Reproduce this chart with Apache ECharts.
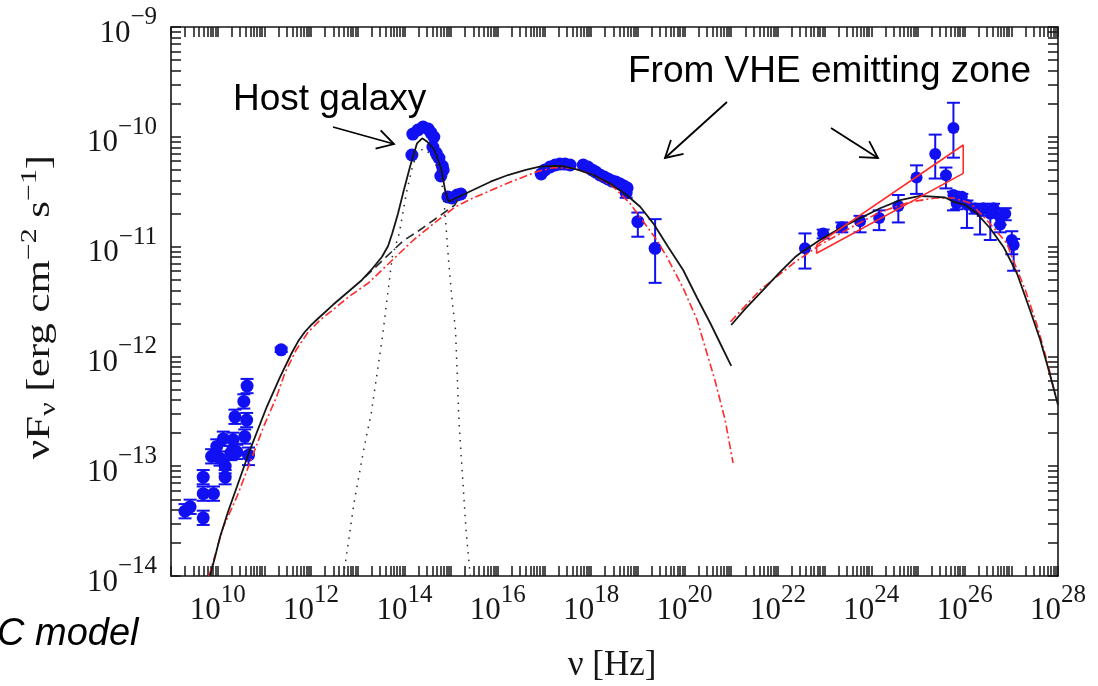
<!DOCTYPE html>
<html>
<head>
<meta charset="utf-8">
<script src="https://cdn.jsdelivr.net/npm/echarts@6/dist/echarts.min.js"></script>
<style>
  html, body { margin: 0; padding: 0; background: #ffffff; }
  #chart { width: 1098px; height: 686px; }
</style>
</head>
<body>
<div id="chart"></div>
<script>
// ---- axes: decades of log10(nu / Hz) and log10(nuFnu / erg cm^-2 s^-1) ----
const xDecades = [9, 10, 11, 12, 13, 14, 15, 16, 17, 18, 19, 20, 21, 22, 23, 24, 25, 26, 27, 28];
const xLabelDecades = [10, 12, 14, 16, 18, 20, 22, 24, 26, 28];
const yDecades = [-14, -13, -12, -11, -10, -9];
const minorMultipliers = [2, 3, 4, 5, 6, 7, 8, 9];

// ---- observations: [log nu, log nuFnu, log low, log high] ----
const radioPoints = [
  [9.30, -13.41, -13.475, -13.345], [9.41, -13.37, -13.435, -13.305],
  [9.69, -13.47, -13.535, -13.405], [9.69, -13.25, -13.315, -13.185],
  [9.91, -13.25, -13.315, -13.185], [9.69, -13.10, -13.165, -13.035],
  [10.16, -13.10, -13.165, -13.035], [10.16, -13.00, -13.065, -12.935],
  [9.87, -12.91, -12.975, -12.845], [9.98, -12.82, -12.885, -12.755],
  [10.05, -12.93, -12.995, -12.865], [10.28, -12.88, -12.945, -12.815],
  [10.41, -12.87, -12.935, -12.805], [10.66, -12.90, -12.99, -12.83],
  [10.12, -12.75, -12.815, -12.685], [10.33, -12.76, -12.825, -12.695],
  [10.58, -12.73, -12.795, -12.665], [10.37, -12.55, -12.615, -12.485],
  [10.62, -12.58, -12.645, -12.515], [10.56, -12.41, -12.475, -12.345],
  [10.63, -12.27, -12.335, -12.205], [11.36, -11.94, -11.96, -11.92]
];
const hostPoints = [
  [14.16, -10.166], [14.18, -9.975], [14.29, -9.938], [14.40, -9.911],
  [14.51, -9.929], [14.57, -9.965], [14.63, -10.002], [14.61, -10.093],
  [14.68, -10.148], [14.74, -10.193], [14.81, -10.266], [14.78, -10.357],
  [14.83, -10.302], [14.93, -10.548]
];
const uvPoints = [
  [15.02, -10.557], [15.13, -10.530], [15.21, -10.521]
];
const xrayPoints = [
  [16.93, -10.339, -10.339, -10.339], [17.01, -10.302, -10.302, -10.302],
  [17.12, -10.275, -10.275, -10.275], [17.23, -10.257, -10.257, -10.257],
  [17.33, -10.248, -10.248, -10.248], [17.44, -10.248, -10.248, -10.248],
  [17.55, -10.257, -10.257, -10.257], [17.83, -10.257, -10.257, -10.257],
  [17.93, -10.275, -10.275, -10.275], [18.02, -10.302, -10.302, -10.302],
  [18.10, -10.321, -10.321, -10.321], [18.19, -10.348, -10.348, -10.348],
  [18.28, -10.366, -10.366, -10.366], [18.36, -10.384, -10.384, -10.384],
  [18.45, -10.403, -10.403, -10.403], [18.53, -10.412, -10.412, -10.412],
  [18.62, -10.430, -10.430, -10.430], [18.70, -10.448, -10.448, -10.448],
  [18.77, -10.466, -10.466, -10.466], [18.75, -10.510, -10.555, -10.470],
  [19.00, -10.773, -10.91, -10.69], [19.37, -11.016, -11.33, -10.75]
];
const fermiPoints = [
  [22.58, -11.016, -11.20, -10.88], [22.97, -10.880, -10.925, -10.845],
  [23.37, -10.824, -10.87, -10.78], [23.76, -10.770, -10.87, -10.72],
  [24.17, -10.740, -10.85, -10.67], [24.58, -10.630, -10.78, -10.53],
  [24.97, -10.370, -10.52, -10.26], [25.37, -10.157, -10.38, -9.98],
  [25.60, -10.350, -10.47, -10.28], [25.76, -9.920, -10.19, -9.69]
];
const vhePoints = [
  [25.76, -10.530, -10.67, -10.50], [25.94, -10.545, -10.60, -10.52],
  [25.83, -10.606, -10.66, -10.58], [26.05, -10.620, -10.83, -10.58],
  [26.22, -10.650, -10.70, -10.62], [26.33, -10.667, -10.89, -10.62],
  [26.40, -10.650, -10.72, -10.61], [26.55, -10.700, -10.94, -10.64],
  [26.62, -10.650, -10.70, -10.61], [26.76, -10.730, -10.80, -10.66],
  [26.76, -10.800, -10.87, -10.74], [26.87, -10.700, -10.76, -10.65],
  [27.01, -10.940, -11.07, -10.86], [27.05, -10.985, -11.22, -10.93]
];
// power-law butterfly of the LAT spectrum
const latButterfly = [
  [22.83, -10.985], [25.97, -10.075], [25.97, -10.333], [22.83, -11.061], [22.83, -10.985]
];

// ---- model curves: [log nu, log nuFnu] ----
const totalLowBump = [
  [9.835, -14.0], [9.943, -13.827], [10.05, -13.645], [10.22, -13.417], [10.41, -13.19],
  [10.69, -12.853], [11.05, -12.461], [11.335, -12.188], [11.586, -11.969], [11.72, -11.865],
  [11.86, -11.78], [12.0, -11.715], [12.15, -11.655], [12.47, -11.53], [12.84, -11.395],
  [13.09, -11.304], [13.29, -11.213],
  [13.52, -11.092], [13.65, -10.995], [13.74, -10.879], [13.86, -10.703], [13.97, -10.515],
  [14.12, -10.272], [14.27, -10.059], [14.38, -10.014], [14.49, -10.045], [14.645, -10.12],
  [14.795, -10.302], [14.87, -10.485], [14.945, -10.591], [15.095, -10.56], [15.47, -10.485],
  [15.845, -10.409], [16.22, -10.348], [16.60, -10.302], [16.90, -10.272], [17.19, -10.265],
  [17.40, -10.268], [17.69, -10.296], [18.05, -10.348], [18.40, -10.424], [18.76, -10.53],
  [19.05, -10.637], [19.33, -10.788], [19.65, -11.004], [19.97, -11.213], [20.27, -11.468],
  [20.55, -11.696], [20.76, -11.878], [21.00, -12.087]
];
const totalHighBump = [
  [21.0, -11.714], [21.30, -11.568], [21.62, -11.423], [22.05, -11.231], [22.37, -11.095],
  [22.475, -11.061], [22.90, -10.94], [23.33, -10.833], [23.76, -10.742], [24.19, -10.651],
  [24.62, -10.576], [25.045, -10.539], [25.33, -10.545], [25.58, -10.553], [25.76, -10.591],
  [26.01, -10.621], [26.26, -10.697], [26.545, -10.833], [26.83, -11.001], [27.12, -11.243],
  [27.40, -11.577], [27.62, -11.851], [27.83, -12.169], [28.0, -12.443]
];
const altLowBump = [
  [9.814, -14.0], [9.964, -13.781], [10.12, -13.554], [10.41, -13.28], [10.69, -12.971],
  [10.98, -12.643], [11.26, -12.37], [11.44, -12.151], [11.68, -11.942], [11.935, -11.78],
  [12.19, -11.67], [12.47, -11.575], [12.83, -11.45], [13.22, -11.334], [13.67, -11.152],
  [14.195, -10.94], [14.72, -10.758], [15.095, -10.637], [15.47, -10.557], [15.845, -10.49],
  [16.22, -10.42], [16.60, -10.357], [16.83, -10.318], [17.19, -10.281], [17.62, -10.287],
  [18.05, -10.348], [18.475, -10.454], [18.83, -10.606], [19.12, -10.773], [19.405, -10.94],
  [19.62, -11.092], [19.97, -11.377], [20.27, -11.669], [20.44, -11.914], [20.65, -12.215],
  [20.87, -12.579], [21.04, -12.971]
];
const altHighBump = [
  [20.985, -11.684], [21.62, -11.395], [22.37, -11.14], [22.90, -10.985], [23.545, -10.831],
  [24.19, -10.685], [24.83, -10.594], [25.37, -10.557], [25.75, -10.557], [26.12, -10.603],
  [26.475, -10.758], [26.90, -10.967], [27.04, -11.122], [27.30, -11.395], [27.55, -11.714],
  [27.79, -12.078], [27.94, -12.352]
];
const synchrotronOnly = [
  [13.16, -11.277], [13.585, -11.104], [13.97, -10.949], [14.33, -10.849],
  [14.87, -10.685], [15.08, -10.621], [15.15, -10.566]
];
const hostTemplate = [
  [12.695, -14.0], [12.92, -13.335], [13.14, -12.822], [13.29, -12.515], [13.52, -11.851],
  [13.74, -11.092], [13.89, -10.879], [14.04, -10.515], [14.18, -10.257], [14.29, -10.138],
  [14.40, -10.111], [14.505, -10.138], [14.655, -10.23], [14.795, -10.393], [14.87, -10.694],
  [14.945, -11.122], [15.02, -11.486], [15.095, -11.76], [15.17, -12.607], [15.32, -13.581],
  [15.41, -14.0]
];

// ---- drawing ----
const BLUE = '#1010f2';
const RED = '#ff2a2a';
const INK = '#161616';
const SERIF = '"Liberation Serif", "Times New Roman", serif';
const SANS = '"Liberation Sans", Arial, sans-serif';

function logTicks(decades) {
  const out = [];
  decades.forEach(function (d, i) {
    out.push(d);
    if (i < decades.length - 1) {
      minorMultipliers.forEach(function (m) { out.push(d + Math.log10(m)); });
    }
  });
  return out;
}

function powerLabel(value) {
  const e = Math.round(value);
  const txt = e < 0 ? '\u2212' + (-e) : String(e);
  return '{b|10}{s|' + txt + '}';
}

const powerRich = {
  b: { fontFamily: SERIF, fontSize: 31, lineHeight: 31, color: INK, padding: [13, 0, 0, 0] },
  s: { fontFamily: SERIF, fontSize: 25, lineHeight: 25, color: INK, padding: [0, 0, 19, 0] }
};

function errorBars(params, api) {
  const x = api.value(0);
  const lo = api.value(2);
  const hi = api.value(3);
  if (!(hi > lo)) return null;
  const a = api.coord([x, lo]);
  const b = api.coord([x, hi]);
  const w = 6.5;
  const st = { stroke: BLUE, lineWidth: 2 };
  return {
    type: 'group',
    children: [
      { type: 'line', shape: { x1: a[0], y1: a[1], x2: b[0], y2: b[1] }, style: st },
      { type: 'line', shape: { x1: a[0] - w, y1: a[1], x2: a[0] + w, y2: a[1] }, style: st },
      { type: 'line', shape: { x1: b[0] - w, y1: b[1], x2: b[0] + w, y2: b[1] }, style: st }
    ]
  };
}

function pointSeries(data, size) {
  return {
    type: 'scatter', data: data, symbol: 'circle', symbolSize: size,
    itemStyle: { color: BLUE, opacity: 1 }, z: 2, silent: true
  };
}
function errorSeries(data) {
  return { type: 'custom', data: data, renderItem: errorBars, z: 2, silent: true,
           encode: { x: 0, y: [1, 2, 3] } };
}
function curveSeries(data, color, type, width) {
  return {
    type: 'line', data: data, showSymbol: false, symbol: 'none', smooth: false,
    lineStyle: { color: color, width: width, type: type }, z: 5, silent: true
  };
}

// annotation arrows (open heads)
function arrow(x1, y1, x2, y2) {
  const ang = Math.atan2(y2 - y1, x2 - x1);
  const len = 19, spread = 0.52;
  const h1 = [x2 - len * Math.cos(ang - spread), y2 - len * Math.sin(ang - spread)];
  const h2 = [x2 - len * Math.cos(ang + spread), y2 - len * Math.sin(ang + spread)];
  const st = { stroke: '#000', lineWidth: 1.8, fill: null };
  return [
    { type: 'polyline', shape: { points: [[x1, y1], [x2, y2]] }, style: st },
    { type: 'polyline', shape: { points: [h1, [x2, y2], h2] }, style: st }
  ];
}

const xTicks = logTicks(xDecades);
const yTicks = logTicks(yDecades);

const axisLineStyle = { show: true, lineStyle: { color: INK, width: 1.6 } };
const tickStyle = (vals) => ({ show: true, inside: true, length: 10, customValues: vals,
                               lineStyle: { color: INK, width: 1.5 } });

const chart = echarts.init(document.getElementById('chart'), null, { renderer: 'canvas' });
chart.setOption({
  animation: false,
  backgroundColor: '#ffffff',
  grid: { left: 171, right: 40, top: 27, bottom: 110, containLabel: false },
  xAxis: [
    {
      type: 'value', min: 9, max: 28, position: 'bottom',
      axisLine: axisLineStyle, axisTick: tickStyle(xTicks),
      splitLine: { show: false }, minorTick: { show: false },
      axisLabel: { show: true, customValues: xLabelDecades, margin: 13,
                   formatter: powerLabel, rich: powerRich }
    },
    {
      type: 'value', min: 9, max: 28, position: 'top',
      axisLine: axisLineStyle, axisTick: tickStyle(xTicks),
      splitLine: { show: false }, axisLabel: { show: false }
    }
  ],
  yAxis: [
    {
      type: 'value', min: -14, max: -9, position: 'left',
      axisLine: axisLineStyle, axisTick: tickStyle(yTicks),
      splitLine: { show: false }, minorTick: { show: false },
      axisLabel: { show: true, customValues: yDecades, margin: 14,
                   formatter: powerLabel, rich: powerRich }
    },
    {
      type: 'value', min: -14, max: -9, position: 'right',
      axisLine: axisLineStyle, axisTick: tickStyle(yTicks),
      splitLine: { show: false }, axisLabel: { show: false }
    }
  ],
  series: [
    errorSeries(radioPoints), pointSeries(radioPoints, 13),
    pointSeries(hostPoints, 13), pointSeries(uvPoints, 13),
    errorSeries(xrayPoints), pointSeries(xrayPoints, 13),
    errorSeries(fermiPoints), pointSeries(fermiPoints, 12),
    errorSeries(vhePoints), pointSeries(vhePoints, 12),
    curveSeries(hostTemplate, '#2a2a2a', [1.5, 6], 1.5),
    curveSeries(synchrotronOnly, '#2a2a2a', [9, 5], 1.6),
    curveSeries(altLowBump, RED, [8, 3, 2, 3], 1.6),
    curveSeries(altHighBump, RED, [8, 3, 2, 3], 1.6),
    curveSeries(totalLowBump, INK, 'solid', 1.8),
    curveSeries(totalHighBump, INK, 'solid', 1.8),
    curveSeries(latButterfly, RED, 'solid', 1.6)
  ],
  graphic: [].concat(
    [
      {
        type: 'text', x: 40, y: 307, rotation: Math.PI / 2, scaleX: 1.3, silent: true,
        style: {
          text: '{m|\u03bdF}{sub|\u03bd}{m| [erg cm}{sup|\u22122}{m| s}{sup|\u22121}{m|]}',
          align: 'center', verticalAlign: 'middle', textAlign: 'center', textVerticalAlign: 'middle',
          fill: INK,
          rich: {
            m: { fontFamily: SERIF, fontSize: 33, lineHeight: 33, color: INK },
            sub: { fontFamily: SERIF, fontSize: 23, lineHeight: 23, color: INK, padding: [17, 0, 0, 0] },
            sup: { fontFamily: SERIF, fontSize: 23, lineHeight: 23, color: INK, padding: [0, 0, 21, 0] }
          }
        }
      },
      {
        type: 'text', x: 612, y: 666, silent: true,
        style: { text: '\u03bd [Hz]', font: '35px ' + SERIF, fill: INK,
                 align: 'center', verticalAlign: 'middle', textAlign: 'center', textVerticalAlign: 'middle' }
      },
      {
        type: 'text', x: 233, y: 100, silent: true,
        style: { text: 'Host galaxy', font: '37px ' + SANS, fill: '#000',
                 align: 'left', verticalAlign: 'middle', textAlign: 'left', textVerticalAlign: 'middle' }
      },
      {
        type: 'text', x: 628, y: 72, silent: true,
        style: { text: 'From VHE emitting zone', font: '37px ' + SANS, fill: '#000',
                 align: 'left', verticalAlign: 'middle', textAlign: 'left', textVerticalAlign: 'middle' }
      },
      {
        type: 'text', x: -3, y: 634, silent: true,
        style: { text: 'C model', font: 'italic 38px ' + SANS, fill: '#000',
                 align: 'left', verticalAlign: 'middle', textAlign: 'left', textVerticalAlign: 'middle' }
      }
    ],
    arrow(333, 127, 394, 144),
    arrow(727, 102, 665, 158),
    arrow(831, 128, 878, 158)
  )
});
</script>
</body>
</html>
